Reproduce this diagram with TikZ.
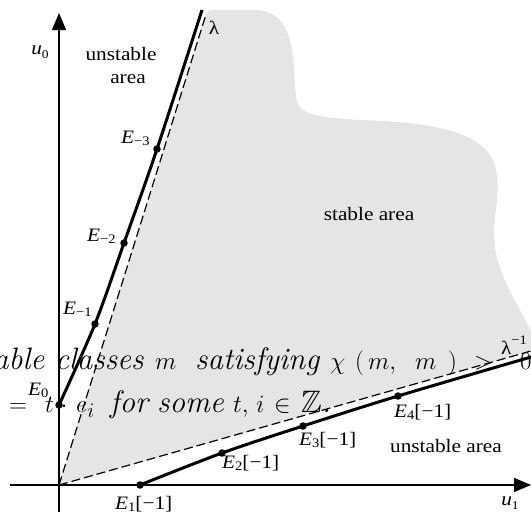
\documentclass[tikz,border=0pt]{standalone}
\usepackage{amssymb}
\usepackage{fontspec}
\newfontfamily\lbl[FakeStretch=1.12]{Liberation Serif}
\usetikzlibrary{arrows.meta}
\newcommand\myE[2]{\textit{E}\raisebox{-0.3ex}{\fontsize{13}{13}\selectfont #1}#2}
\tikzset{
  lab/.style={inner sep=0pt, font=\lbl\fontsize{19}{22}\selectfont},
  ptdot/.style={circle, fill=black, inner sep=0pt, minimum size=7.5pt},
  axis/.style={line width=1.3pt, -{Triangle[length=17pt,width=14pt]}},
  asym/.style={line width=1.2pt, dash pattern=on 9pt off 4pt},
  branch/.style={line width=3pt},
  over/.style={inner sep=0pt, anchor=base west, font=\fontsize{31}{38}\selectfont\itshape},
}
\begin{document}
\begin{tikzpicture}[x=1pt,y=-1pt]
\useasboundingbox (0,0) rectangle (531,512);
% gray stable region
\fill[black!10] (59,485) -- (205.5,16) .. controls (207,11) and (209,10) .. (215,10)
  -- (254,10) .. controls (273,10) and (287,20) .. (292,50)
  .. controls (296,75) and (294,95) .. (298,104)
  .. controls (302,114) and (320,118) .. (360,120)
  .. controls (420,122) and (455,128) .. (478,143)
  .. controls (497,157) and (499,175) .. (497,200)
  .. controls (494,225) and (491,240) .. (500,268)
  .. controls (508,292) and (524,315) .. (531,332)
  -- (531,351) -- cycle;
% overlay text, line 1
\node[over] (t1a) at (-7,369) {able classes};
\node[over] (t1b) at (155,369) {$m$};
\node[over] (t1c) at (195,369) {satisfying};
\node[over] (t1d) at (330,369) {$\chi$};
\node[over] (t1e) at (355,369) {$($};
\node[over] (t1f) at (368,369) {$m,$};
\node[over] (t1g) at (415,369) {$m$};
\node[over] (t1h) at (448,369) {$)$};
\node[over] (t1i) at (474,369) {$>$};
\node[over] (t1j) at (520,369) {$0$};
% overlay text, line 2
\node[over] (t2a) at (9,412) {$=$};
\node[over] (t2b) at (45,412) {$t$};
\node[over, anchor=base] (t2c) at (64,412) {$\cdot$};
\node[over] (t2d) at (76,412) {$e_i$};
\node[over] (t2e) at (110,412) {for};
\node[over] (t2f) at (157,412) {some};
\node[over] (t2g) at (233,412) {$t,$};
\node[over] (t2h) at (256,412) {$i$};
\node[over] (t2i) at (274,412) {$\in$};
\node[over] (t2j) at (301,412) {$\mathbb{Z}$.};
% axes
\coordinate (O) at (59,485);
\coordinate (yb) at (59,512);
\coordinate (yt) at (59,13);
\coordinate (xl) at (10,485);
\coordinate (xr) at (531,485);
\draw[axis] (yb) -- (yt);
\draw[axis] (xl) -- (xr);
% asymptotes
\coordinate (L) at (205.5,16);
\coordinate (Li) at (531,351);
\draw[asym] (O) -- (L);
\draw[asym] (O) -- (Li);
% points
\node[ptdot] (e0) at (59,405) {};
\node[ptdot] (em1) at (95,324) {};
\node[ptdot] (em2) at (124,243) {};
\node[ptdot] (em3) at (157,149) {};
\coordinate (etop) at (202,10);
\node[ptdot] (f1) at (140,485) {};
\node[ptdot] (f2) at (222,453) {};
\node[ptdot] (f3) at (303,426) {};
\node[ptdot] (f4) at (398,396) {};
\coordinate (fend) at (531,357);
\draw[branch] plot[smooth, tension=0.5] coordinates {(e0.center) (em1.center) (em2.center) (em3.center) (etop)};
\draw[branch] plot[smooth, tension=0.5] coordinates {(f1.center) (f2.center) (f3.center) (f4.center) (fend)};
% labels
\node[lab, anchor=base] (u0) at (40,54) {\textit{u}\raisebox{-0.5ex}{\fontsize{12}{12}\selectfont 0}};
\node[lab, anchor=base] (u1) at (510,505) {\textit{u}\raisebox{-0.5ex}{\fontsize{12}{12}\selectfont 1}};
\node[lab, anchor=base] (lam) at (214,34) {λ};
\node[lab, anchor=base] (lami) at (514,354) {λ\raisebox{1.1ex}{\fontsize{13}{13}\selectfont −1}};
\node[lab, anchor=base] (un1) at (121,60) {unstable};
\node[lab, anchor=base] (un2) at (128,83) {area};
\node[lab, anchor=base] (st) at (369,220) {stable area};
\node[lab, anchor=base] (un3) at (446,452) {unstable area};
\node[lab, anchor=base west] (le3) at (121,143) {\myE{−3}{}};
\node[lab, anchor=base west] (le2) at (87,241) {\myE{−2}{}};
\node[lab, anchor=base west] (le1) at (63,314) {\myE{−1}{}};
\node[lab, anchor=base west] (le0) at (28,395) {\myE{0}{}};
\node[lab, anchor=base west] (lf1) at (115,509) {\myE{1}{[−1]}};
\node[lab, anchor=base west] (lf2) at (222,468) {\myE{2}{[−1]}};
\node[lab, anchor=base west] (lf3) at (299,445) {\myE{3}{[−1]}};
\node[lab, anchor=base west] (lf4) at (394,417) {\myE{4}{[−1]}};
\end{tikzpicture}
\end{document}
